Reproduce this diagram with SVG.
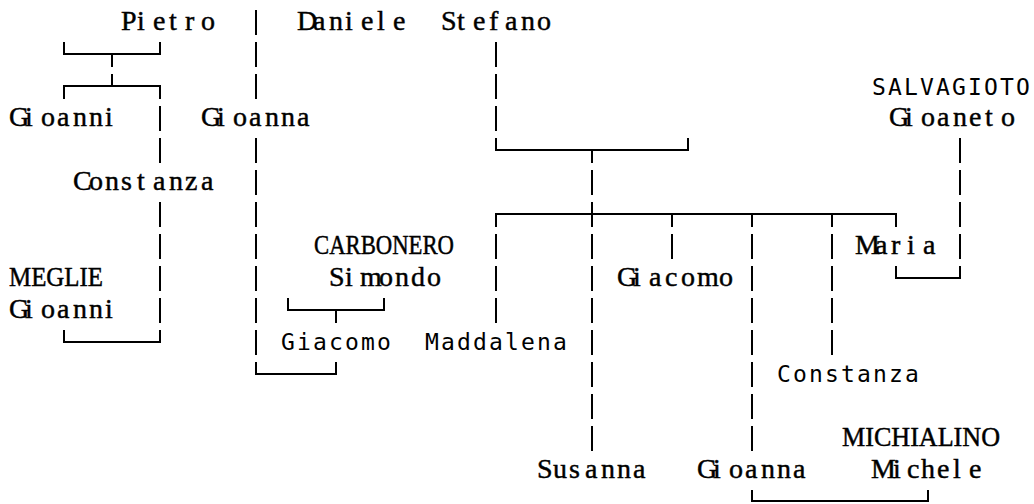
<svg xmlns="http://www.w3.org/2000/svg" width="1034" height="504" viewBox="0 0 1034 504">
<style>
.s{font-family:"Liberation Serif","Times New Roman",serif;font-size:28px;fill:#000;stroke:#000;stroke-width:0.45}
.c{font-family:"Liberation Serif","Times New Roman",serif;font-size:27px;fill:#000;stroke:#000;stroke-width:0.45}
.m{font-family:"DejaVu Sans Mono",monospace;font-size:23px;fill:#000}
.ln{fill:none;stroke:#000;stroke-width:2}
</style>
<rect width="1034" height="504" fill="#fff"/>
<g id="connectors" class="ln">
<path d="M64 42V54H160V42M112 54V67M112 74V86M64 99V86H160V99"/>
<path d="M160 106V131M160 138V163M160 202V227M160 234V259M160 266V291M160 298V323M64 330V342H160V330"/>
<path d="M256 10V35M256 42V67M256 74V99M256 138V163M256 170V195M256 202V227M256 234V259M256 266V291M256 298V323M256 330V355M256 362V374H336V362"/>
<path d="M288 298V310H384V298M336 310V323"/>
<path d="M496 42V67M496 74V99M496 106V131M496 138V150H688V138M592 150V163"/>
<path d="M592 170V195M592 202V227M592 234V259M592 266V291M592 298V323M592 330V355M592 362V387M592 394V419M592 426V451"/>
<path d="M496 227V214H896V227M672 214V227M752 214V227M832 214V227"/>
<path d="M496 234V259M496 266V291M496 298V323"/>
<path d="M672 234V259"/>
<path d="M752 234V259M752 266V291M752 298V323M752 330V355M752 362V387M752 394V419M752 426V451M752 490V501H928V490"/>
<path d="M832 234V259M832 266V291M832 298V323M832 330V355"/>
<path d="M960 138V163M960 170V195M960 202V227M960 234V259M960 266V278H896V266"/>
</g>
<g id="pietro"><text class="s" x="121 137 153 169 185 201" y="30">Pietro</text></g>
<g id="daniele"><text class="s" x="297 313 329 345 361 377 393" y="30">Daniele</text></g>
<g id="stefano"><text class="s" x="441 457 473 489 505 521 537" y="30">Stefano</text></g>
<g id="gioanni1"><text class="s" x="9 25 41 57 73 89 105" y="126">Gioanni</text></g>
<g id="gioanna1"><text class="s" x="201 217 233 249 265 281 297" y="126">Gioanna</text></g>
<g id="salvagioto-gioaneto">
<text class="m" x="872 888 904 920 936 952 968 984 1000 1016" y="95">SALVAGIOTO</text>
<text class="s" x="889 905 921 937 953 969 985 1001" y="126">Gioaneto</text>
</g>
<g id="constanza1"><text class="s" x="73 89 105 121 137 153 169 185 201" y="190">Constanza</text></g>
<g id="carbonero-simondo">
<text class="c" x="314" y="254" textLength="140" lengthAdjust="spacingAndGlyphs">CARBONERO</text>
<text class="s" x="329 345 360 379 395 411 427" y="286">Simondo</text>
</g>
<g id="maria"><text class="s" x="855 875 891 907 923" y="254">Maria</text></g>
<g id="meglie-gioanni">
<text class="c" x="9" y="286" textLength="94" lengthAdjust="spacingAndGlyphs">MEGLIE</text>
<text class="s" x="9 25 41 57 73 89 105" y="318">Gioanni</text>
</g>
<g id="giacomo1"><text class="s" x="617 633 649 665 681 697 719" y="286">Giacomo</text></g>
<g id="giacomo2"><text class="m" x="281 297 313 329 345 361 377" y="350">Giacomo</text></g>
<g id="maddalena"><text class="m" x="425 441 457 473 489 505 521 537 553" y="350">Maddalena</text></g>
<g id="constanza2"><text class="m" x="777 793 809 825 841 857 873 889 905" y="382">Constanza</text></g>
<g id="michialino-michele">
<text class="c" x="842" y="446" textLength="158" lengthAdjust="spacingAndGlyphs">MICHIALINO</text>
<text class="s" x="871 893 907 921 937 953 969" y="478">Michele</text>
</g>
<g id="susanna"><text class="s" x="537 553 569 585 601 617 633" y="478">Susanna</text></g>
<g id="gioanna2"><text class="s" x="697 713 729 745 761 777 793" y="478">Gioanna</text></g>
</svg>
